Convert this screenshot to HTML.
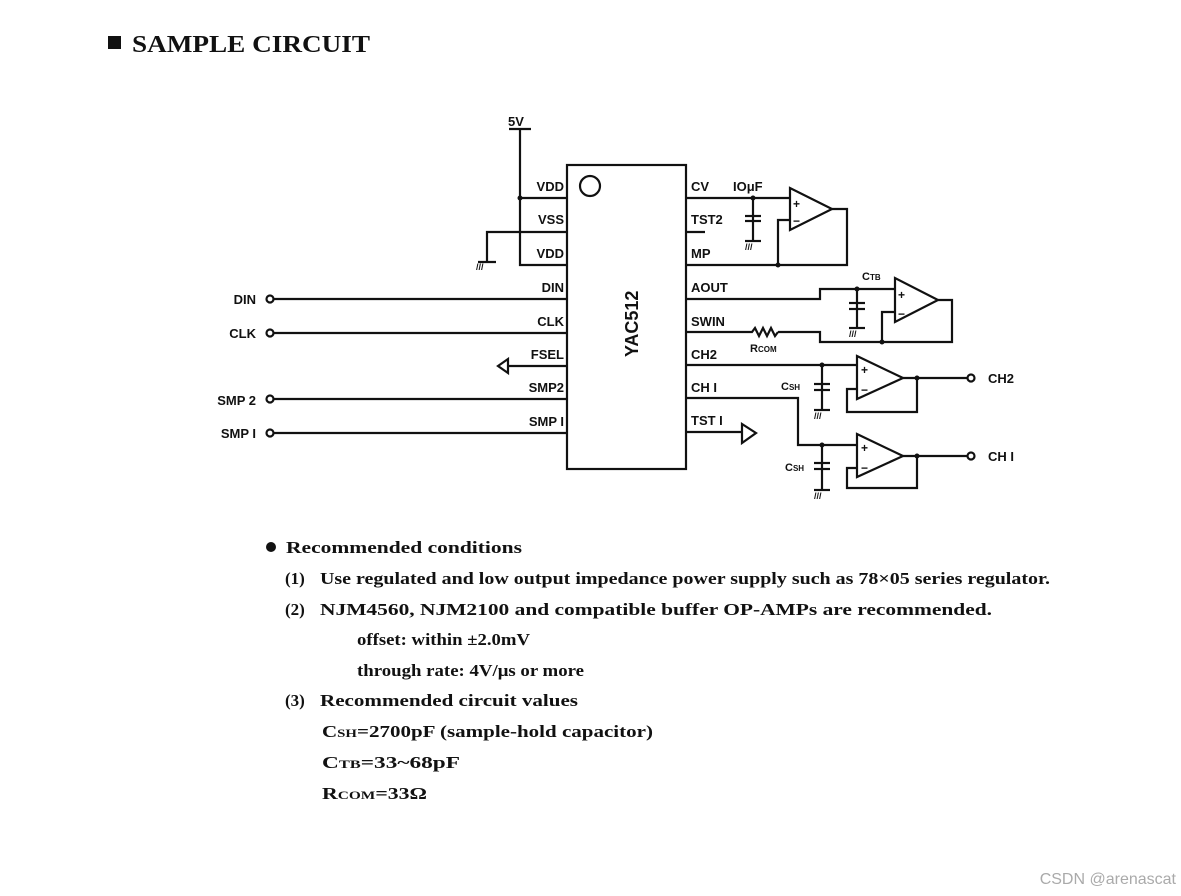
<!DOCTYPE html>
<html><head><meta charset="utf-8"><style>
body{margin:0;background:#fff;width:1181px;height:896px;overflow:hidden}
svg{position:absolute;left:0;top:0}
.t{font-family:"Liberation Sans",sans-serif;font-weight:bold;font-size:13px;fill:#111}
.s{font-family:"Liberation Serif",serif;font-weight:bold;fill:#111}
</style></head><body>
<svg width="1181" height="896" viewBox="0 0 1181 896">
<g stroke="#111" stroke-width="2.2" fill="none">
<rect x="567" y="165" width="119" height="304"/>
<circle cx="590" cy="186" r="10"/>
<line x1="509" y1="129" x2="531" y2="129"/>
<polyline points="520,129 520,265 567,265"/>
<line x1="520" y1="198" x2="567" y2="198"/>
<polyline points="567,232 487,232 487,262"/>
<line x1="478" y1="262" x2="496" y2="262"/>
<line x1="274" y1="299" x2="567" y2="299"/>
<line x1="274" y1="333" x2="567" y2="333"/>
<line x1="508" y1="366" x2="567" y2="366"/>
<polygon points="498,366 508,359 508,373"/>
<line x1="274" y1="399" x2="567" y2="399"/>
<line x1="274" y1="433" x2="567" y2="433"/>
<circle cx="270" cy="299" r="3.5"/><circle cx="270" cy="333" r="3.5"/>
<circle cx="270" cy="399" r="3.5"/><circle cx="270" cy="433" r="3.5"/>
<line x1="686" y1="198" x2="790" y2="198"/>
<line x1="686" y1="232" x2="705" y2="232"/>
<line x1="753" y1="198" x2="753" y2="241"/>
<line x1="745" y1="216" x2="761" y2="216"/><line x1="745" y1="221" x2="761" y2="221"/>
<line x1="745" y1="241" x2="761" y2="241"/>
<polygon points="790,188 790,230 832,209"/>
<polyline points="832,209 847,209 847,265 686,265"/>
<polyline points="790,220 778,220 778,265"/>
<polyline points="686,299 820,299 820,289 895,289"/>
<line x1="857" y1="289" x2="857" y2="328"/>
<line x1="849" y1="303" x2="865" y2="303"/><line x1="849" y1="309" x2="865" y2="309"/>
<line x1="849" y1="328" x2="865" y2="328"/>
<polygon points="895,278 895,322 938,300"/>
<polyline points="938,300 952,300 952,342 820,342 820,332 778,332"/>
<polyline points="895,312 882,312 882,342"/>
<polyline points="686,332 752,332 755,328 759,336 763,328 767,336 771,328 775,336 778,332"/>
<line x1="686" y1="365" x2="857" y2="365"/>
<line x1="822" y1="365" x2="822" y2="410"/>
<line x1="814" y1="384" x2="830" y2="384"/><line x1="814" y1="390" x2="830" y2="390"/>
<line x1="814" y1="410" x2="830" y2="410"/>
<polygon points="857,356 857,399 903,378"/>
<line x1="903" y1="378" x2="967" y2="378"/>
<circle cx="971" cy="378" r="3.5"/>
<polyline points="917,378 917,412 847,412 847,389 857,389"/>
<polyline points="686,398 798,398 798,445 857,445"/>
<line x1="822" y1="445" x2="822" y2="490"/>
<line x1="814" y1="463" x2="830" y2="463"/><line x1="814" y1="469" x2="830" y2="469"/>
<line x1="814" y1="490" x2="830" y2="490"/>
<polygon points="857,434 857,477 903,456"/>
<line x1="903" y1="456" x2="967" y2="456"/>
<circle cx="971" cy="456" r="3.5"/>
<polyline points="917,456 917,488 847,488 847,468 857,468"/>
<line x1="686" y1="432" x2="742" y2="432"/>
<polygon points="742,424 742,443 756,433"/>
</g>
<g fill="#111">
<circle cx="520" cy="198" r="2.5"/><circle cx="778" cy="265" r="2.5"/>
<circle cx="753" cy="198" r="2.5"/><circle cx="857" cy="289" r="2.5"/>
<circle cx="882" cy="342" r="2.5"/><circle cx="822" cy="365" r="2.5"/>
<circle cx="917" cy="378" r="2.5"/><circle cx="822" cy="445" r="2.5"/>
<circle cx="917" cy="456" r="2.5"/>
</g>
<g class="t">
<text x="508" y="126">5V</text>
<text x="476" y="270" font-size="9">///</text>
<text x="745" y="250" font-size="9">///</text>
<text x="849" y="337" font-size="9">///</text>
<text x="814" y="419" font-size="9">///</text>
<text x="814" y="499" font-size="9">///</text>
<g text-anchor="end">
<text x="564" y="191">VDD</text><text x="564" y="224">VSS</text><text x="564" y="258">VDD</text>
<text x="564" y="292">DIN</text><text x="564" y="326">CLK</text><text x="564" y="359">FSEL</text>
<text x="564" y="392">SMP2</text><text x="564" y="426">SMP I</text>
<text x="256" y="304">DIN</text><text x="256" y="338">CLK</text>
<text x="256" y="405">SMP 2</text><text x="256" y="438">SMP I</text>
</g>
<text x="691" y="191">CV</text><text x="691" y="224">TST2</text><text x="691" y="258">MP</text>
<text x="691" y="292">AOUT</text><text x="691" y="326">SWIN</text><text x="691" y="359">CH2</text>
<text x="691" y="392">CH I</text><text x="691" y="425">TST I</text>
<text x="733" y="191">IOμF</text>
<text x="862" y="280" font-size="11">C<tspan font-size="8">TB</tspan></text>
<text x="750" y="352" font-size="11">R<tspan font-size="8">COM</tspan></text>
<text x="781" y="390" font-size="11">C<tspan font-size="8">SH</tspan></text>
<text x="785" y="471" font-size="11">C<tspan font-size="8">SH</tspan></text>
<text x="988" y="383">CH2</text><text x="988" y="461">CH I</text>
<text transform="translate(638,357) rotate(-90)" font-size="18">YAC512</text>
<text x="898" y="299" font-size="12">+</text><text x="898" y="318" font-size="12">−</text>
<text x="793" y="208" font-size="12">+</text><text x="793" y="225" font-size="12">−</text>
<text x="861" y="374" font-size="12">+</text><text x="861" y="394" font-size="12">−</text>
<text x="861" y="452" font-size="12">+</text><text x="861" y="472" font-size="12">−</text>
</g>
<rect x="108" y="36" width="13" height="13" fill="#111"/>
<text class="s" x="132" y="52" font-size="24" textLength="238" lengthAdjust="spacingAndGlyphs">SAMPLE CIRCUIT</text>
<circle cx="271" cy="547" r="5" fill="#111"/>
<g class="s" font-size="17">
<text x="286" y="553" textLength="236" lengthAdjust="spacingAndGlyphs">Recommended conditions</text>
<text x="285" y="584">(1)</text><text x="320" y="584" textLength="730" lengthAdjust="spacingAndGlyphs">Use regulated and low output impedance power supply such as 78×05 series regulator.</text>
<text x="285" y="615">(2)</text><text x="320" y="615" textLength="672" lengthAdjust="spacingAndGlyphs">NJM4560, NJM2100 and compatible buffer OP-AMPs are recommended.</text>
<text x="357" y="645" textLength="173" lengthAdjust="spacingAndGlyphs">offset: within ±2.0mV</text>
<text x="357" y="676" textLength="227" lengthAdjust="spacingAndGlyphs">through rate: 4V/μs or more</text>
<text x="285" y="706">(3)</text><text x="320" y="706" textLength="258" lengthAdjust="spacingAndGlyphs">Recommended circuit values</text>
<text x="322" y="737" textLength="331" lengthAdjust="spacingAndGlyphs">C<tspan font-size="12">SH</tspan>=2700pF (sample-hold capacitor)</text>
<text x="322" y="768" textLength="138" lengthAdjust="spacingAndGlyphs">C<tspan font-size="12">TB</tspan>=33~68pF</text>
<text x="322" y="799" textLength="105" lengthAdjust="spacingAndGlyphs">R<tspan font-size="12">COM</tspan>=33Ω</text>
</g>
<text x="1176" y="884" text-anchor="end" font-family="Liberation Sans,sans-serif" font-size="16" fill="#aaa">CSDN @arenascat</text>
</svg>
</body></html>
